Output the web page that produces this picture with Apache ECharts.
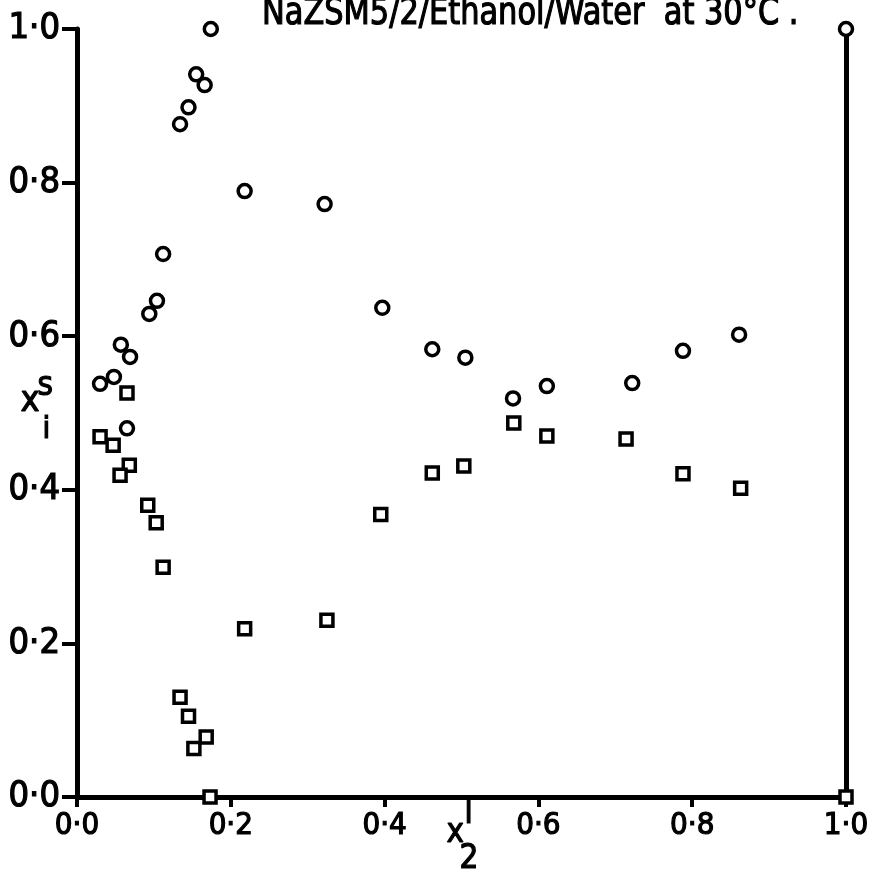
<!DOCTYPE html>
<html>
<head>
<meta charset="utf-8">
<script src="https://cdn.jsdelivr.net/npm/echarts@6/dist/echarts.min.js"></script>
<style>
  html, body { margin: 0; padding: 0; background: #fff; }
  #chart { width: 874px; height: 872px; }
</style>
</head>
<body>
<div id="chart"></div>
<script>
// Surface-phase mole fraction x_i^s against liquid mole fraction x_2^l
const circleX = [0.030, 0.048, 0.057, 0.069, 0.065, 0.094, 0.104, 0.112, 0.134, 0.145, 0.155, 0.166, 0.174, 0.218, 0.322, 0.397, 0.462, 0.505, 0.567, 0.611, 0.722, 0.788, 0.861, 1.000];
const circleY = [0.538, 0.547, 0.589, 0.573, 0.480, 0.629, 0.646, 0.707, 0.876, 0.898, 0.941, 0.927, 1.000, 0.789, 0.772, 0.637, 0.583, 0.572, 0.519, 0.535, 0.539, 0.581, 0.602, 1.000];

const squareX = [0.030, 0.047, 0.065, 0.068, 0.056, 0.092, 0.103, 0.112, 0.134, 0.145, 0.168, 0.152, 0.173, 0.218, 0.325, 0.395, 0.462, 0.503, 0.568, 0.611, 0.714, 0.788, 0.863, 1.000];
const squareY = [0.469, 0.458, 0.526, 0.432, 0.419, 0.380, 0.357, 0.299, 0.130, 0.105, 0.078, 0.063, 0.000, 0.219, 0.230, 0.368, 0.422, 0.431, 0.487, 0.470, 0.466, 0.421, 0.402, 0.000];

const tickValues = [0.0, 0.2, 0.4, 0.6, 0.8, 1.0];
const tickText = ['0·0', '0·2', '0·4', '0·6', '0·8', '1·0'];
const titleText = 'NaZSM5/2/Ethanol/Water  at 30°C .';

const FONT = '"DejaVu Sans Condensed", "Liberation Sans Narrow", "DejaVu Sans", sans-serif';
const INK = '#000';

function tickLabel(v) {
  const i = tickValues.findIndex(t => Math.abs(t - v) < 1e-6);
  return i >= 0 ? tickText[i] : '';
}

function pairs(xs, ys) {
  return xs.map((x, i) => [x, ys[i]]);
}

const chart = echarts.init(document.getElementById('chart'), null, { renderer: 'canvas' });

// a thin outline of the same ink gives the lettering its heavier pen weight
const pen = { textBorderColor: INK, textBorderWidth: 1.2 };
const nameStyle = { fontFamily: FONT, fill: INK, stroke: INK, lineWidth: 1.2 };

chart.setOption({
  backgroundColor: '#fff',
  animation: false,
  grid: { left: 77, right: 28, top: 29, bottom: 75, containLabel: false },
  xAxis: {
    type: 'value', min: 0, max: 1, interval: 0.2,
    splitLine: { show: false },
    axisLine: { show: true, onZero: false, lineStyle: { color: INK, width: 5 } },
    axisTick: { show: true, inside: false, length: 10, lineStyle: { color: INK, width: 4 } },
    axisLabel: Object.assign({ formatter: tickLabel, margin: 13, fontFamily: FONT, fontSize: 31, color: INK }, pen)
  },
  yAxis: [
    {
      type: 'value', min: 0, max: 1, interval: 0.2,
      splitLine: { show: false },
      axisLine: { show: true, onZero: false, lineStyle: { color: INK, width: 5 } },
      axisTick: { show: true, inside: false, length: 15, lineStyle: { color: INK, width: 4 } },
      axisLabel: Object.assign({ formatter: tickLabel, margin: 17, fontFamily: FONT, fontSize: 36, color: INK }, pen)
    },
    {
      type: 'value', min: 0, max: 1, position: 'right',
      splitLine: { show: false },
      axisLine: { show: true, onZero: false, lineStyle: { color: INK, width: 5 } },
      axisTick: { show: false },
      axisLabel: { show: false }
    }
  ],
  series: [
    {
      name: 'circles', type: 'scatter',
      data: pairs(circleX, circleY),
      symbol: 'circle', symbolSize: 13,
      itemStyle: { color: '#fff', borderColor: INK, borderWidth: 3.5, opacity: 1 },
      z: 5
    },
    {
      name: 'squares', type: 'scatter',
      data: pairs(squareX, squareY),
      symbol: 'rect', symbolSize: 12,
      itemStyle: { color: '#fff', borderColor: INK, borderWidth: 3.5, opacity: 1 },
      z: 5
    }
  ],
  graphic: [
    // chart title, set in a narrow lettering
    {
      type: 'text', x: 262, y: -5, scaleX: 0.89,
      style: Object.assign({ text: titleText, fontSize: 38, textAlign: 'left', textVerticalAlign: 'top' }, nameStyle)
    },
    // y-axis name: x with superscript s and subscript i
    { type: 'text', left: 20, top: 383, style: Object.assign({ text: 'x', fontSize: 36 }, nameStyle) },
    { type: 'text', left: 37, top: 369, style: Object.assign({ text: 's', fontSize: 33 }, nameStyle) },
    { type: 'text', left: 42, top: 414, style: Object.assign({ text: 'i', fontSize: 31 }, nameStyle) },
    // x-axis name: x with superscript l and subscript 2
    { type: 'text', left: 446, top: 816, style: Object.assign({ text: 'x', fontSize: 33 }, nameStyle) },
    { type: 'text', left: 464, top: 797, style: Object.assign({ text: 'l', fontSize: 33 }, nameStyle) },
    { type: 'text', left: 459, top: 842, style: Object.assign({ text: '2', fontSize: 33 }, nameStyle) }
  ]
});
</script>
</body>
</html>
